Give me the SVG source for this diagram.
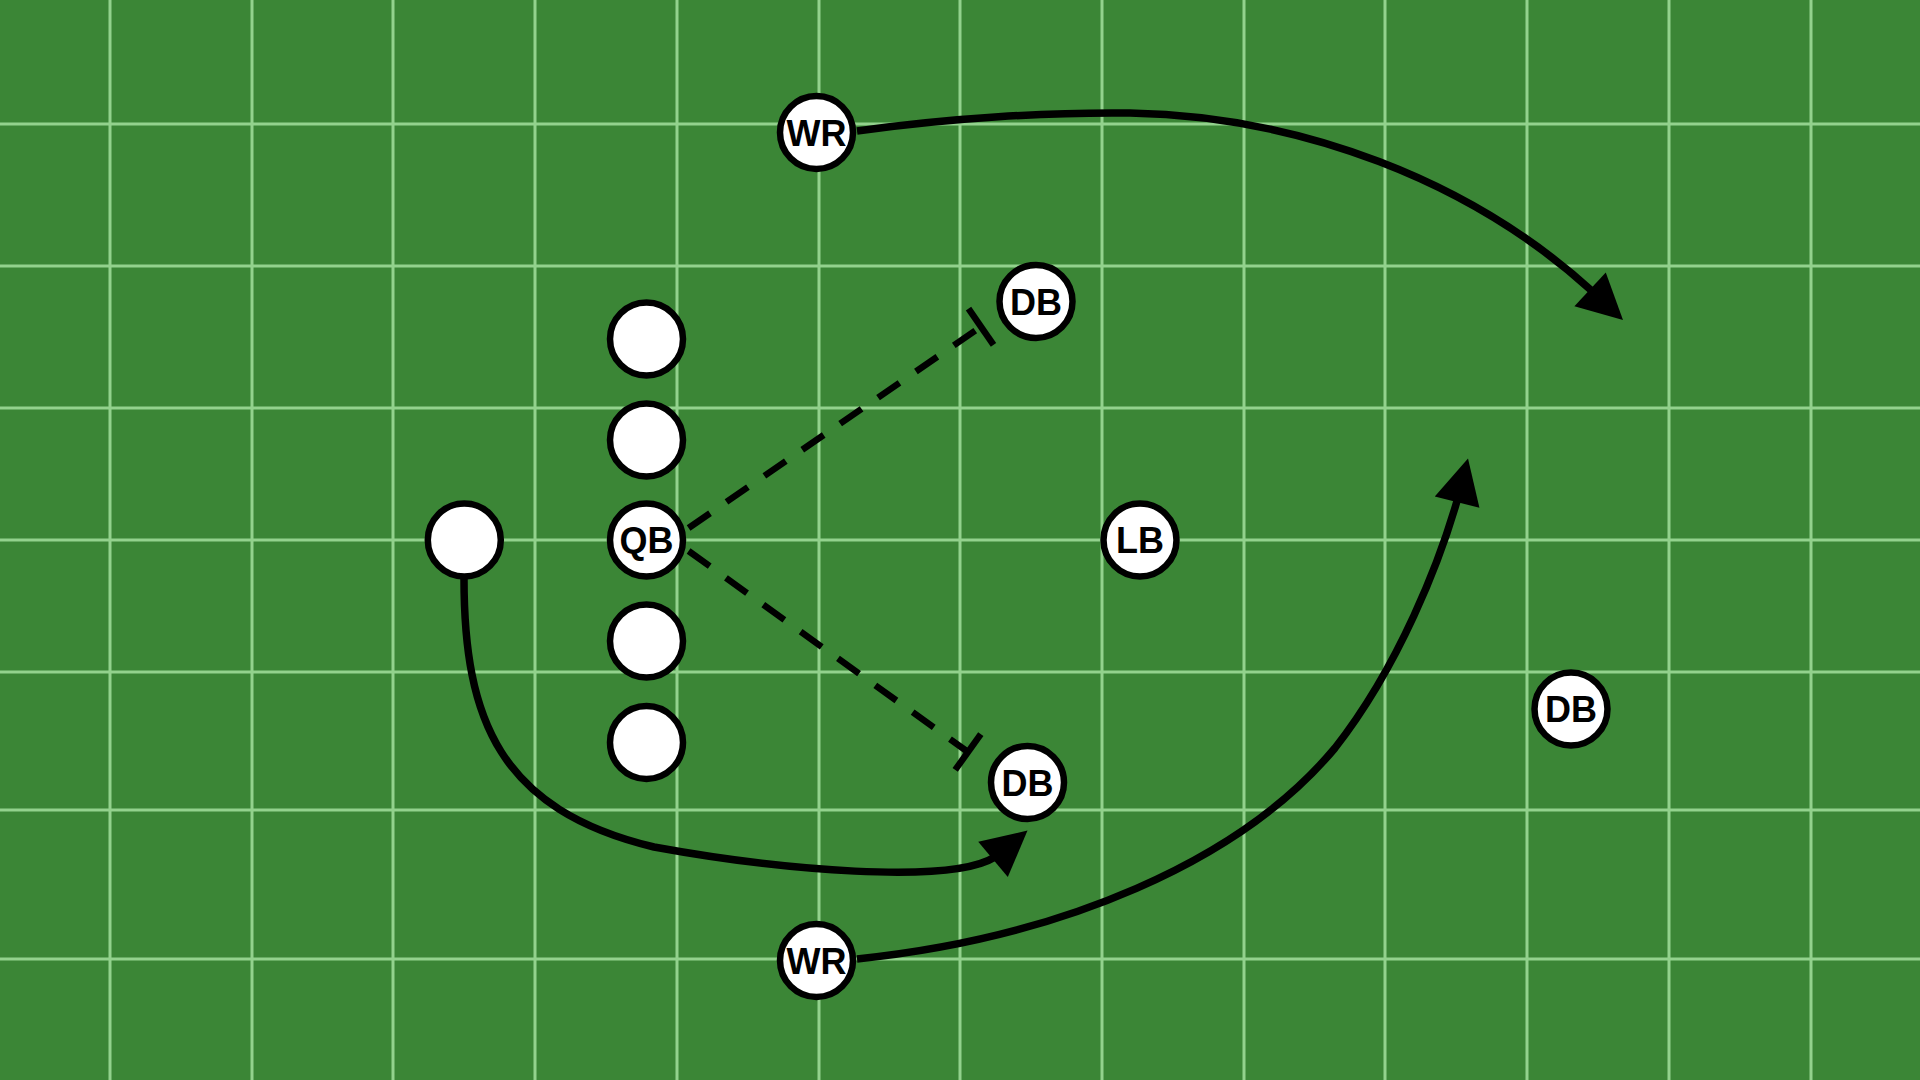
<svg xmlns="http://www.w3.org/2000/svg" xmlns:xlink="http://www.w3.org/1999/xlink" width="1920" height="1080" viewBox="0 0 1920 1080">
  <style>
    .grid line { stroke: #93d28d; stroke-width: 3; }
    .route { fill: none; stroke: #000; stroke-width: 7.5; stroke-linecap: butt; }
    .read { fill: none; stroke: #000; stroke-width: 6.5; stroke-dasharray: 26 20; }
    .bar { stroke: #000; stroke-width: 6.5; }
    .player circle { fill: #fff; stroke: #000; stroke-width: 6.5; }
    .player text { font-family: "Liberation Sans", Arial, Helvetica, sans-serif; font-weight: bold; font-size: 36px; text-anchor: middle; fill: #000; }
  </style>
  <defs>
    <path id="arrowhead" d="M0,0 L-45,-23 L-45,23 Z" fill="#000"/>
  </defs>
  <rect x="0" y="0" width="1920" height="1080" fill="#3b8636"/>
  <g class="grid">
    <line x1="110" y1="0" x2="110" y2="1080"/>
    <line x1="252" y1="0" x2="252" y2="1080"/>
    <line x1="393" y1="0" x2="393" y2="1080"/>
    <line x1="535" y1="0" x2="535" y2="1080"/>
    <line x1="677" y1="0" x2="677" y2="1080"/>
    <line x1="819" y1="0" x2="819" y2="1080"/>
    <line x1="960" y1="0" x2="960" y2="1080"/>
    <line x1="1102" y1="0" x2="1102" y2="1080"/>
    <line x1="1244" y1="0" x2="1244" y2="1080"/>
    <line x1="1385" y1="0" x2="1385" y2="1080"/>
    <line x1="1527" y1="0" x2="1527" y2="1080"/>
    <line x1="1669" y1="0" x2="1669" y2="1080"/>
    <line x1="1811" y1="0" x2="1811" y2="1080"/>
    <line x1="0" y1="124" x2="1920" y2="124"/>
    <line x1="0" y1="266" x2="1920" y2="266"/>
    <line x1="0" y1="408" x2="1920" y2="408"/>
    <line x1="0" y1="540" x2="1920" y2="540"/>
    <line x1="0" y1="672" x2="1920" y2="672"/>
    <line x1="0" y1="810" x2="1920" y2="810"/>
    <line x1="0" y1="959" x2="1920" y2="959"/>
  </g>
  <g id="connectors">
    <path class="route" d="M857,131 C950,118 1050,112 1130,113 C1300,116 1470,180 1592,291"/>
    <use xlink:href="#arrowhead" href="#arrowhead" transform="translate(1623,320) rotate(43)"/>
    <path class="route" d="M857,959 C1060,938 1240,862 1335,748 C1400,665 1440,560 1457,501"/>
    <use xlink:href="#arrowhead" href="#arrowhead" transform="translate(1468,458.5) rotate(-76)"/>
    <path class="route" d="M464,578 C464,720 500,810 654,847 C780,870 950,885 995,857"/>
    <use xlink:href="#arrowhead" href="#arrowhead" transform="translate(1027.5,830.5) rotate(-40)"/>
    <path class="read" d="M688.6,528 L981,326.7"/>
    <line class="bar" x1="968.5" y1="308.6" x2="993.5" y2="344.8"/>
    <path class="read" d="M688.6,551 L968,752"/>
    <line class="bar" x1="980.8" y1="734.1" x2="955.2" y2="769.9"/>
  </g>
  <g id="wr-top" class="player"><circle cx="816.5" cy="132.5" r="36.5"/><text x="816.5" y="145.5">WR</text></g>
  <g id="db-top" class="player"><circle cx="1036" cy="301.5" r="36.5"/><text x="1036" y="314.5">DB</text></g>
  <g id="ol-1" class="player"><circle cx="646.5" cy="339" r="36.5"/></g>
  <g id="ol-2" class="player"><circle cx="646.5" cy="440" r="36.5"/></g>
  <g id="qb" class="player"><circle cx="646.5" cy="540" r="36.5"/><text x="646.5" y="553">QB</text></g>
  <g id="ol-4" class="player"><circle cx="646.5" cy="641" r="36.5"/></g>
  <g id="ol-5" class="player"><circle cx="646.5" cy="742.5" r="36.5"/></g>
  <g id="rb" class="player"><circle cx="464.3" cy="540" r="36.5"/></g>
  <g id="lb" class="player"><circle cx="1140" cy="540" r="36.5"/><text x="1140" y="553">LB</text></g>
  <g id="db-right" class="player"><circle cx="1571" cy="709" r="36.5"/><text x="1571" y="722">DB</text></g>
  <g id="db-bottom" class="player"><circle cx="1027.5" cy="782.5" r="36.5"/><text x="1027.5" y="795.5">DB</text></g>
  <g id="wr-bottom" class="player"><circle cx="816.5" cy="960.5" r="36.5"/><text x="816.5" y="973.5">WR</text></g>
</svg>
